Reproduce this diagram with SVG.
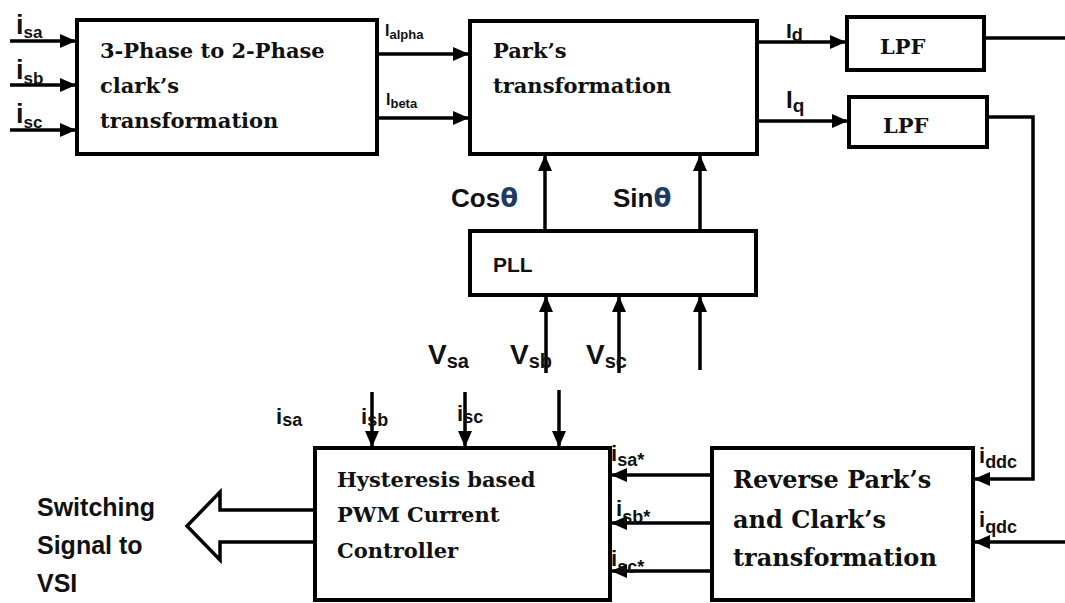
<svg xmlns="http://www.w3.org/2000/svg" width="1065" height="603" viewBox="0 0 1065 603">
<style>
.box{fill:#fff;stroke:#000;stroke-width:4}
.ln{fill:none;stroke:#000;stroke-width:3.5}
.bt{font-family:"DejaVu Serif","Liberation Serif",serif;font-weight:bold;font-size:21px;fill:#111}
.bt2{font-family:"DejaVu Serif","Liberation Serif",serif;font-weight:bold;font-size:24px;fill:#111}
.st{font-family:"Liberation Sans",Arial,sans-serif;font-weight:bold;fill:#111}
.th{fill:#1d3b66}
</style>
<defs>
<marker id="ah" markerUnits="userSpaceOnUse" markerWidth="16" markerHeight="14" refX="15" refY="7" orient="auto" viewBox="0 0 16 14">
<path d="M0,0 L16,7 L0,14 z" fill="#000"/>
</marker>
</defs>
<rect width="1065" height="603" fill="#fff"/>

<g id="connectors">
<line class="ln" x1="10" y1="41" x2="75" y2="41" marker-end="url(#ah)"/>
<line class="ln" x1="10" y1="85" x2="75" y2="85" marker-end="url(#ah)"/>
<line class="ln" x1="10" y1="130" x2="75" y2="130" marker-end="url(#ah)"/>
<line class="ln" x1="377" y1="54" x2="468" y2="54" marker-end="url(#ah)"/>
<line class="ln" x1="377" y1="118" x2="468" y2="118" marker-end="url(#ah)"/>
<line class="ln" x1="757" y1="42" x2="845" y2="42" marker-end="url(#ah)"/>
<line class="ln" x1="757" y1="121" x2="847" y2="121" marker-end="url(#ah)"/>
<line class="ln" x1="984" y1="38" x2="1065" y2="38"/>
<polyline class="ln" points="987,117 1033,117 1033,479 975,479" marker-end="url(#ah)"/>
<line class="ln" x1="1065" y1="542" x2="975" y2="542" marker-end="url(#ah)"/>
<line class="ln" x1="545" y1="231" x2="545" y2="156" marker-end="url(#ah)"/>
<line class="ln" x1="700" y1="231" x2="700" y2="156" marker-end="url(#ah)"/>
<line class="ln" x1="546" y1="373" x2="546" y2="297" marker-end="url(#ah)"/>
<line class="ln" x1="619" y1="373" x2="619" y2="297" marker-end="url(#ah)"/>
<line class="ln" x1="700" y1="370" x2="700" y2="297" marker-end="url(#ah)"/>
<line class="ln" x1="372" y1="392" x2="372" y2="446" marker-end="url(#ah)"/>
<line class="ln" x1="465" y1="392" x2="465" y2="446" marker-end="url(#ah)"/>
<line class="ln" x1="559" y1="390" x2="559" y2="446" marker-end="url(#ah)"/>
<line class="ln" x1="712" y1="475" x2="612" y2="475" marker-end="url(#ah)"/>
<line class="ln" x1="712" y1="523" x2="612" y2="523" marker-end="url(#ah)"/>
<line class="ln" x1="712" y1="571" x2="612" y2="571" marker-end="url(#ah)"/>
<polygon points="315,510 220,510 220,492 187,526 220,560 220,542 315,542" fill="#fff" stroke="#000" stroke-width="3.5" stroke-linejoin="miter"/>
</g>

<g id="clark">
<rect class="box" x="77" y="20" width="300" height="134"/>
<text class="bt" x="100" y="58">3-Phase to 2-Phase</text>
<text class="bt" x="100" y="93">clark’s</text>
<text class="bt" x="100" y="128">transformation</text>
</g>

<g id="park">
<rect class="box" x="470" y="21" width="287" height="133"/>
<text class="bt" x="493" y="58">Park’s</text>
<text class="bt" x="493" y="93">transformation</text>
</g>

<g id="lpf1">
<rect class="box" x="847" y="17" width="137" height="53"/>
<text class="bt" x="880" y="54">LPF</text>
</g>

<g id="lpf2">
<rect class="box" x="849" y="97" width="138" height="50"/>
<text class="bt" x="883" y="133">LPF</text>
</g>

<g id="pll">
<rect class="box" x="470" y="231" width="286" height="64"/>
<text class="st" x="493" y="272" font-size="21">PLL</text>
</g>

<g id="hysteresis">
<rect class="box" x="315" y="448" width="295" height="152"/>
<text class="bt" x="337" y="487">Hysteresis based</text>
<text class="bt" x="337" y="522">PWM Current</text>
<text class="bt" x="337" y="558">Controller</text>
</g>

<g id="reverse">
<rect class="box" x="712" y="448" width="261" height="152"/>
<text class="bt2" x="733" y="488">Reverse Park’s</text>
<text class="bt2" x="733" y="528">and Clark’s</text>
<text class="bt2" x="733" y="566">transformation</text>
</g>

<g id="labels">
<text class="st" x="16" y="34" font-size="27">i<tspan font-size="17" dy="4">sa</tspan></text>
<text class="st" x="16" y="79" font-size="27">i<tspan font-size="17" dy="5">sb</tspan></text>
<text class="st" x="16" y="123" font-size="27">i<tspan font-size="17" dy="5">sc</tspan></text>
<text class="st" x="385" y="36" font-size="16">I<tspan font-size="13" dy="3">alpha</tspan></text>
<text class="st" x="386" y="105" font-size="16">I<tspan font-size="13" dy="3">beta</tspan></text>
<text class="st" x="786" y="38" font-size="21">I<tspan font-size="18" dy="3">d</tspan></text>
<text class="st" x="786" y="108" font-size="24">I<tspan font-size="19" dy="4">q</tspan></text>
<text class="st" x="451" y="207" font-size="26">Cos<tspan class="th" font-family="DejaVu Sans,sans-serif">θ</tspan></text>
<text class="st" x="613" y="207" font-size="26">Sin<tspan class="th" font-family="DejaVu Sans,sans-serif">θ</tspan></text>
<text class="st" x="428" y="364" font-size="28">V<tspan font-size="20" dy="4">sa</tspan></text>
<text class="st" x="510" y="364" font-size="28">V<tspan font-size="20" dy="4">sb</tspan></text>
<text class="st" x="586" y="364" font-size="28">V<tspan font-size="20" dy="4">sc</tspan></text>
<text class="st" x="276" y="424" font-size="22">i<tspan font-size="18" dy="2">sa</tspan></text>
<text class="st" x="361" y="424" font-size="22">i<tspan font-size="18" dy="2">sb</tspan></text>
<text class="st" x="457" y="421" font-size="22">i<tspan font-size="18" dy="2">sc</tspan></text>
<text class="st" x="611" y="461" font-size="22">i<tspan font-size="18" dy="5">sa*</tspan></text>
<text class="st" x="616" y="516" font-size="22">i<tspan font-size="18" dy="7">sb*</tspan></text>
<text class="st" x="611" y="566" font-size="22">i<tspan font-size="18" dy="7">sc*</tspan></text>
<text class="st" x="979" y="463" font-size="22">i<tspan font-size="18" dy="5">ddc</tspan></text>
<text class="st" x="979" y="527" font-size="22">i<tspan font-size="18" dy="6">qdc</tspan></text>
<text class="st" x="37" y="516" font-size="25">Switching</text>
<text class="st" x="37" y="554" font-size="25">Signal to</text>
<text class="st" x="37" y="592" font-size="25">VSI</text>
</g>
</svg>
